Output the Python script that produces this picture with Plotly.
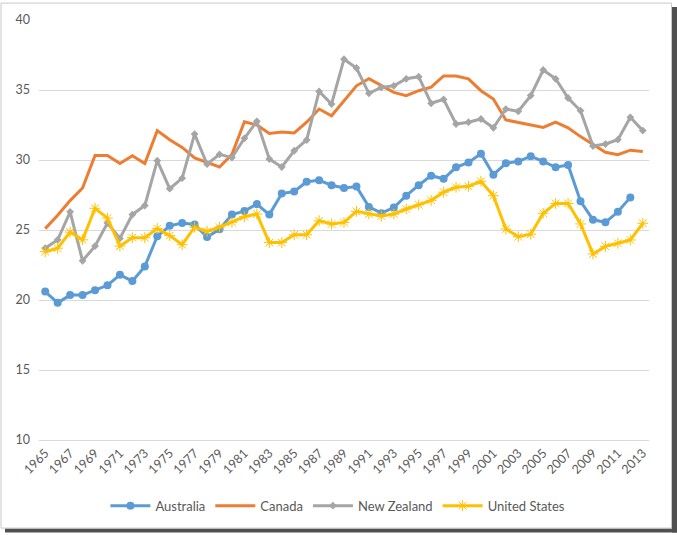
import plotly.graph_objects as go

years = list(range(1965, 2014))

australia = [20.6, 19.8, 20.35, 20.35, 20.7, 21.05, 21.8, 21.35, 22.4, 24.55,
             25.3, 25.5, 25.4, 24.5, 25.05, 26.1, 26.35, 26.85, 26.1, 27.6,
             27.75, 28.45, 28.55, 28.2, 28.0, 28.1, 26.65, 26.2, 26.6, 27.45,
             28.2, 28.88, 28.66, 29.48, 29.83, 30.45, 28.95, 29.76, 29.9, 30.26,
             29.9, 29.48, 29.64, 27.05, 25.74, 25.55, 26.3, 27.33, None]

canada = [25.1, 26.05, 27.1, 28.0, 30.33, 30.33, 29.75, 30.3, 29.75, 32.1,
          31.45, 30.9, 30.15, 29.8, 29.5, 30.4, 32.73, 32.5, 31.9, 32.0,
          31.93, 32.7, 33.64, 33.16, 34.24, 35.3, 35.8, 35.3, 34.83, 34.6,
          34.95, 35.2, 36.0, 36.0, 35.8, 34.95, 34.36, 32.86, 32.7, 32.5,
          32.33, 32.7, 32.3, 31.67, 31.14, 30.55, 30.38, 30.7, 30.6]

new_zealand = [23.7, 24.3, 26.3, 22.8, 23.85, 25.5, 24.4, 26.1, 26.75, 29.95,
               27.95, 28.7, 31.85, 29.7, 30.4, 30.17, 31.55, 32.76, 30.07, 29.5,
               30.66, 31.43, 34.9, 34.0, 37.2, 36.57, 34.76, 35.19, 35.3, 35.8,
               35.95, 34.05, 34.33, 32.57, 32.7, 32.93, 32.3, 33.64, 33.48, 34.6,
               36.43, 35.8, 34.43, 33.52, 31.0, 31.14, 31.45, 33.05, 32.1]

united_states = [23.45, 23.7, 24.85, 24.3, 26.55, 25.85, 23.85, 24.45, 24.45, 25.1,
                 24.6, 23.95, 25.2, 24.9, 25.2, 25.55, 25.95, 26.14, 24.1, 24.1,
                 24.66, 24.66, 25.66, 25.43, 25.54, 26.33, 26.14, 26.0, 26.14, 26.5,
                 26.8, 27.12, 27.7, 28.05, 28.12, 28.48, 27.45, 25.07, 24.52, 24.7,
                 26.19, 26.9, 26.9, 25.43, 23.29, 23.83, 24.05, 24.29, 25.48]

tick_years = list(range(1965, 2014, 2))
tick_labels = [str(y) for y in tick_years]

FONT = "Lato"
TXT = "#595959"

fig = go.Figure()
fig.add_trace(go.Scatter(x=years, y=australia, name="Australia", mode="lines+markers",
                         line=dict(color="#5B9BD5", width=3),
                         marker=dict(symbol="circle", size=8, color="#5B9BD5")))
fig.add_trace(go.Scatter(x=years, y=canada, name="Canada", mode="lines",
                         line=dict(color="#ED7D31", width=3)))
fig.add_trace(go.Scatter(x=years, y=new_zealand, name="New Zealand", mode="lines+markers",
                         line=dict(color="#A5A5A5", width=3),
                         marker=dict(symbol="diamond", size=6, color="#A5A5A5")))
fig.add_trace(go.Scatter(x=years, y=united_states, name="United States", mode="lines+markers",
                         line=dict(color="#FFC000", width=3),
                         marker=dict(symbol="asterisk-open", size=9,
                                     color="#FFC000", line=dict(color="#FFC000", width=1))))

# plot area: px x 39..649, y 18..440
def px(x):
    return (x - 39) / 610.0

def py(y):
    return (440 - y) / 422.0

shapes = [
    # shadow
    dict(type="rect", xref="paper", yref="paper", x0=px(672), x1=px(677), y0=py(533), y1=py(5),
         fillcolor="#505050", line=dict(width=0), layer="above"),
    dict(type="rect", xref="paper", yref="paper", x0=px(5), x1=px(677), y0=py(533), y1=py(529),
         fillcolor="#505050", line=dict(width=0), layer="above"),
    # chart border
    dict(type="rect", xref="paper", yref="paper", x0=px(1), x1=px(671.5), y0=py(528.5), y1=py(1),
         fillcolor="rgba(0,0,0,0)", line=dict(color="#C8C8C8", width=1), layer="above"),
]

fig.update_layout(
    width=677, height=535,
    margin=dict(l=39, r=28, t=18, b=95),
    paper_bgcolor="white", plot_bgcolor="rgba(0,0,0,0)",
    font=dict(family=FONT, size=12, color=TXT),
    showlegend=True,
    legend=dict(orientation="h", x=0.49, xanchor="center", y=py(506), yanchor="middle",
                font=dict(family=FONT, size=13, color=TXT), itemwidth=40,
                bgcolor="rgba(0,0,0,0)"),
    shapes=shapes,
    xaxis=dict(range=[1964.5, 2013.5], tickmode="array", tickvals=tick_years, ticktext=tick_labels,
               tickangle=-45, showgrid=False, zeroline=False, showline=True,
               linecolor="#D9D9D9", linewidth=1, ticks="", tickfont=dict(size=12.5, color=TXT)),
    yaxis=dict(range=[10, 40], dtick=5, tick0=10, showgrid=True, gridcolor="#D9D9D9",
               gridwidth=1, zeroline=False, showline=False, ticks="", ticklabelstandoff=8,
               tickfont=dict(size=12.5, color=TXT)),
)

fig.write_html("out.html", config={"displayModeBar": False},
               post_script="document.body.style.margin='0px';")
